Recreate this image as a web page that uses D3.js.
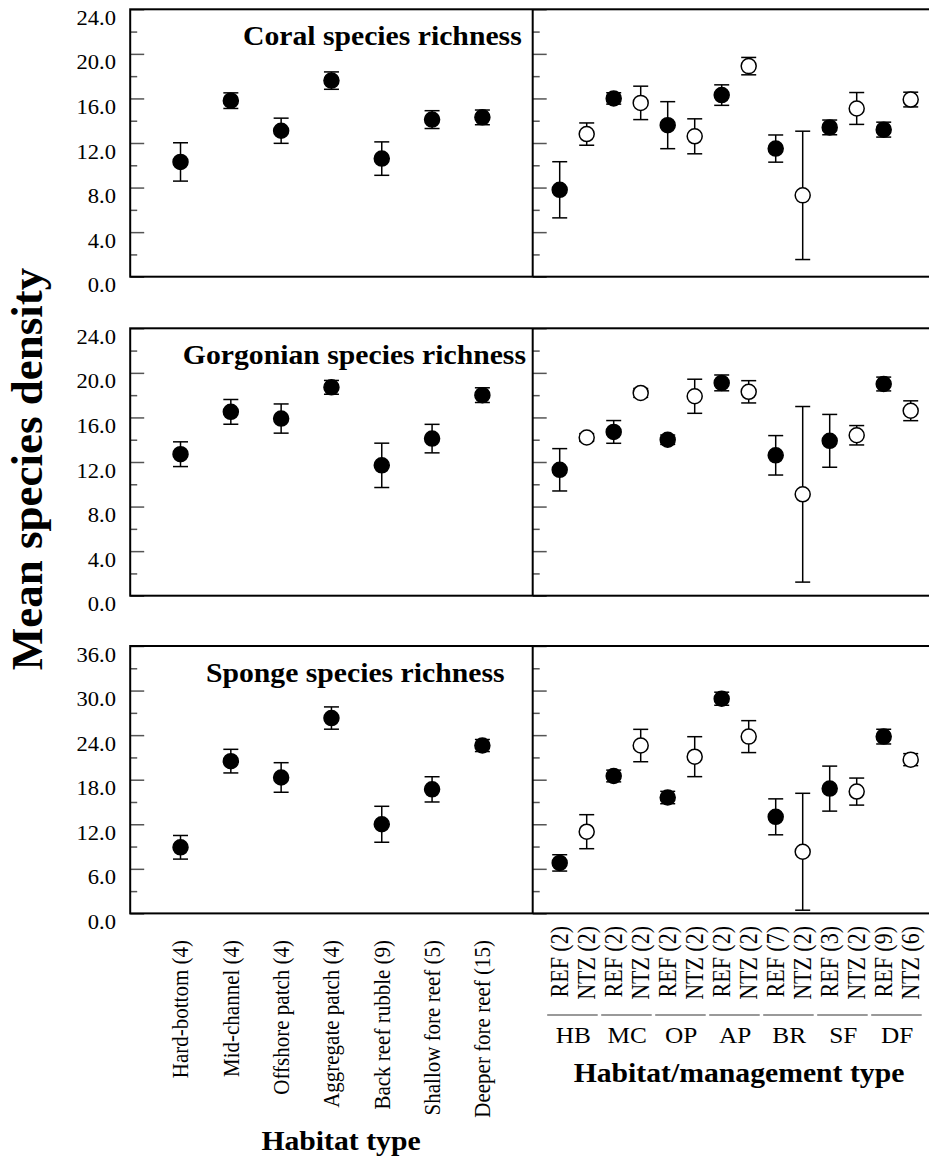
<!DOCTYPE html>
<html><head><meta charset="utf-8">
<script src="https://cdn.jsdelivr.net/npm/d3@7"></script>
<style>
body{margin:0;background:#fff}
text{font-family:"Liberation Serif","Times New Roman",serif;fill:#000}
</style>
</head><body>
<svg id="c" width="929" height="1159"></svg>
<script>
// ---------- data ----------
const habitats = ["Hard-bottom (4)","Mid-channel (4)","Offshore patch (4)","Aggregate patch (4)","Back reef rubble (9)","Shallow fore reef (5)","Deeper fore reef (15)"];
const mgmtLabels = ["REF (2)","NTZ (2)","REF (2)","NTZ (2)","REF (2)","NTZ (2)","REF (2)","NTZ (2)","REF (7)","NTZ (2)","REF (3)","NTZ (2)","REF (9)","NTZ (6)"];
const mgmtType = ["REF","NTZ","REF","NTZ","REF","NTZ","REF","NTZ","REF","NTZ","REF","NTZ","REF","NTZ"];
const mgmtGroups = ["HB","MC","OP","AP","BR","SF","DF"];

const panelTitles = ["Coral species richness","Gorgonian species richness","Sponge species richness"];
const yMax = [24, 24, 36];
const yStep = [2, 2, 3];

const coralHabMean = [10.3, 15.8, 13.1, 17.6, 10.6, 14.1, 14.3];
const coralHabSE   = [1.72, 0.70, 1.13, 0.78, 1.50, 0.80, 0.66];
const coralMgmtMean = [7.8, 12.8, 16.0, 15.6, 13.6, 12.6, 16.3, 18.9, 11.5, 7.3, 13.4, 15.1, 13.2, 15.9];
const coralMgmtSE   = [2.52, 1.00, 0.51, 1.50, 2.11, 1.57, 0.92, 0.78, 1.22, 5.76, 0.66, 1.43, 0.67, 0.66];

const gorgHabMean = [12.7, 16.5, 15.9, 18.7, 11.7, 14.1, 18.0];
const gorgHabSE   = [1.11, 1.11, 1.31, 0.62, 1.99, 1.28, 0.66];
const gorgMgmtMean = [11.3, 14.2, 14.7, 18.2, 14.0, 17.9, 19.1, 18.3, 12.6, 9.1, 13.9, 14.4, 19.0, 16.6];
const gorgMgmtSE   = [1.90, 0.35, 1.02, 0.40, 0.42, 1.53, 0.71, 1.00, 1.77, 7.88, 2.37, 0.87, 0.62, 0.89];

const spongeHabMean = [8.9, 20.5, 18.3, 26.3, 12.0, 16.7, 22.6];
const spongeHabSE   = [1.59, 1.59, 1.99, 1.50, 2.42, 1.70, 0.81];
const spongeMgmtMean = [6.8, 11.0, 18.5, 22.6, 15.6, 21.1, 28.9, 23.8, 13.0, 8.3, 16.8, 16.4, 23.8, 20.7];
const spongeMgmtSE   = [1.10, 2.29, 0.79, 2.18, 0.83, 2.69, 0.88, 2.15, 2.42, 7.87, 3.03, 1.82, 0.99, 0.81];

const habMeans = [coralHabMean, gorgHabMean, spongeHabMean];
const habSEs = [coralHabSE, gorgHabSE, spongeHabSE];
const mgmtMeans = [coralMgmtMean, gorgMgmtMean, spongeMgmtMean];
const mgmtSEs = [coralMgmtSE, gorgMgmtSE, spongeMgmtSE];

// ---------- layout ----------
const layout = {
  x0: 130.2, xMid: 532.7, x1: 937.7,
  tops: [9.3, 328.3, 646], h: 267.4,
  titleRight: [521.7, 526, 504.5], titleDy: 36,
  r: 7.5, cap: 7.5, sx: 1.1
};
const SX = layout.sx;

const svg = d3.select("#c");
const xL = d3.scalePoint().domain(habitats).range([layout.x0, layout.xMid]).padding(1);
const xR = d3.scalePoint().domain(d3.range(mgmtLabels.length)).range([layout.xMid, layout.x1]).padding(1);

function hText(parent, x, y, str, size, anchor, bold) {
  return parent.append("text")
    .attr("transform", `translate(${x},${y}) scale(${SX},1)`)
    .attr("text-anchor", anchor).style("font-size", size + "px")
    .style("font-weight", bold ? "bold" : "normal").text(str);
}

function drawPoints(g, xs, y, means, ses, fills) {
  const d = means.map((m, i) => ({x: xs[i], m, se: ses[i], fill: fills[i]}));
  const eb = g.append("g").selectAll("g").data(d).join("g");
  eb.append("line").attr("x1", e => e.x).attr("x2", e => e.x)
    .attr("y1", e => y(e.m + e.se)).attr("y2", e => y(e.m - e.se))
    .attr("stroke", "#000").attr("stroke-width", 1.5);
  [1, -1].forEach(s => {
    eb.append("line").attr("x1", e => e.x - layout.cap).attr("x2", e => e.x + layout.cap)
      .attr("y1", e => y(e.m + s * e.se)).attr("y2", e => y(e.m + s * e.se))
      .attr("stroke", "#000").attr("stroke-width", 1.5);
  });
  g.append("g").selectAll("circle").data(d).join("circle")
    .attr("cx", e => e.x).attr("cy", e => y(e.m)).attr("r", layout.r)
    .attr("fill", e => e.fill).attr("stroke", "#000").attr("stroke-width", 1.5);
}

panelTitles.forEach((title, p) => {
  const top = layout.tops[p], bot = top + layout.h;
  const y = d3.scaleLinear().domain([0, yMax[p]]).range([bot, top]);
  const g = svg.append("g");
  const all = d3.range(0, yMax[p] + 0.001, yStep[p]);
  const majors = all.filter((v, i) => i % 2 === 0);
  const minors = all.filter((v, i) => i % 2 === 1);

  [layout.x0, layout.xMid].forEach(ax => {
    const aMaj = g.append("g").attr("transform", `translate(${ax},0)`)
      .call(d3.axisRight(y).tickValues(majors).tickSize(14).tickFormat(""));
    const aMin = g.append("g").attr("transform", `translate(${ax},0)`)
      .call(d3.axisRight(y).tickValues(minors).tickSize(7).tickFormat(""));
    [aMaj, aMin].forEach(a => {
      a.select(".domain").remove();
      a.selectAll("line").attr("stroke", "#555").attr("stroke-width", 1.5);
    });
  });
  const fmt = d3.format(".1f");
  const lg = g.append("g");
  majors.forEach(v => hText(lg, 116, y(v) + 15.5, fmt(v), 20.5, "end", false));

  // frame
  g.append("rect").attr("x", layout.x0).attr("y", top).attr("width", layout.x1 - layout.x0).attr("height", layout.h)
    .attr("fill", "none").attr("stroke", "#000").attr("stroke-width", 2);
  g.append("line").attr("x1", layout.xMid).attr("x2", layout.xMid).attr("y1", top).attr("y2", bot)
    .attr("stroke", "#000").attr("stroke-width", 2);

  hText(g, layout.titleRight[p], top + layout.titleDy, title, 27, "end", true);

  drawPoints(g, habitats.map(h => xL(h)), y, habMeans[p], habSEs[p], habitats.map(() => "#000"));
  drawPoints(g, mgmtLabels.map((l, i) => xR(i)), y, mgmtMeans[p], mgmtSEs[p],
    mgmtType.map(t => t === "REF" ? "#000" : "#fff"));
});

// bottom labels
svg.append("g").selectAll("text").data(habitats).join("text")
  .attr("transform", h => `translate(${xL(h)},940) rotate(-90) scale(1,${SX})`)
  .attr("text-anchor", "end").attr("dy", "0.34em").style("font-size", "21px").text(h => h);

svg.append("g").selectAll("text").data(mgmtLabels).join("text")
  .attr("transform", (l, i) => `translate(${xR(i)},926) rotate(-90) scale(1,${SX})`)
  .attr("text-anchor", "end").attr("dy", "0.34em").style("font-size", "22px").text(l => l);

svg.append("g").selectAll("line").data(mgmtGroups).join("line")
  .attr("x1", (gname, i) => xR(2 * i) - 12.5).attr("x2", (gname, i) => xR(2 * i + 1) + 11)
  .attr("y1", 1015).attr("y2", 1015).attr("stroke", "#777").attr("stroke-width", 1.5);

const gl = svg.append("g");
mgmtGroups.forEach((gname, i) => hText(gl, (xR(2 * i) + xR(2 * i + 1)) / 2, 1043, gname, 23, "middle", false));

hText(svg, 341, 1150, "Habitat type", 27, "middle", true);
hText(svg, 739, 1082, "Habitat/management type", 27, "middle", true);
svg.append("text").attr("transform", "translate(42,469) rotate(-90)").attr("text-anchor", "middle")
  .style("font-size", "45px").style("font-weight", "bold").text("Mean species density");
</script>
</body></html>
